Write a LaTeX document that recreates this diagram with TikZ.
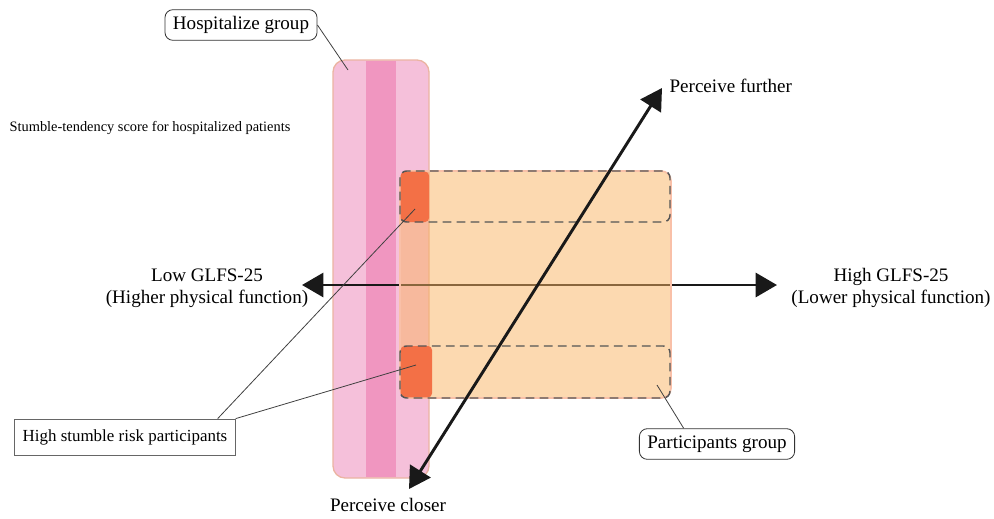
\documentclass[tikz,border=0pt]{standalone}
\usepackage{fontspec}
\setmainfont{Liberation Serif}
\usetikzlibrary{arrows.meta, positioning}
\definecolor{hospink}{HTML}{F5C0DA}
\definecolor{hosstripe}{HTML}{F096C0}
\definecolor{hosborder}{HTML}{EBB4A2}
\definecolor{partorange}{HTML}{F9B361}
\definecolor{partborder}{HTML}{F9C0A8}
\definecolor{hotorange}{HTML}{F37046}
\definecolor{dashgray}{HTML}{555555}
\tikzset{
	labeltext/.style={font=\fontsize{14.3}{16.5}\selectfont, align=center, inner sep=1pt}
}
\tikzset{
	smalltext/.style={font=\fontsize{10.8}{12}\selectfont, inner sep=1pt}
}
\begin{document}
\begin{tikzpicture}[x=0.75pt, y=-0.75pt]

\tikzset{
    axisarrow/.style={
        {Triangle[length=16pt,width=18pt]}-{Triangle[length=16pt,width=18pt]},
        line width=2.2pt,
        draw=black!90
    },
    riskband/.style={
        draw=dashgray,
        line width=1.1pt,
        dash pattern=on 6.5pt off 4pt,
        rounded corners=5pt
    },
    groupbox/.style={
        draw=black!80,
        line width=0.6pt,
        rounded corners=6pt,
        fill=white,
        inner xsep=6pt,
        minimum height=23pt,
        font=\fontsize{14.3}{16}\selectfont
    },
    notebox/.style={
        draw=black!60,
        line width=0.6pt,
        fill=white,
        inner xsep=6pt,
        minimum height=27pt,
        font=\fontsize{12.7}{15}\selectfont
    },
    leader/.style={draw=black!75, line width=0.6pt}
}

\useasboundingbox (0,0) rectangle (994,518);

% hospitalized column
\draw[fill=hospink, draw=hosborder, line width=1pt, rounded corners=9pt] (333,60) rectangle (429,478);
\fill[hosstripe] (366,60.7) rectangle (396,477.3);

\coordinate (lowend) at (302,285);
\coordinate (highend) at (777,285);
\draw[axisarrow] (lowend) -- (highend);

% participants box
\draw[fill=partorange, fill opacity=0.5, draw=partborder, line width=1.3pt, rounded corners=7.5pt] (400,171) rectangle (671,398);
\fill[hotorange, rounded corners=3pt] (400.6,171.6) rectangle (429,222);
\fill[hotorange, rounded corners=3pt] (400.6,346) rectangle (432,397.4);
\draw[riskband] (400,171) rectangle (670,222);
\draw[riskband] (400,346) rectangle (670,398);

\coordinate (closeend) at (409,489);
\coordinate (furtherend) at (662,88);
\draw[axisarrow] (closeend) -- (furtherend);

\node[labeltext, anchor=west] (further) at (668,86) {Perceive further};
\node[labeltext] (closer) at (388,505) {Perceive closer};
\node[labeltext] (lowlabel) at (207,288) {Low GLFS-25\\(Higher physical function)};
\node[labeltext] (highlabel) at (891,288) {High GLFS-25\\(Lower physical function)};
\node[smalltext, anchor=west] (scoretitle) at (8,128) {Stumble-tendency score for hospitalized patients};

% callouts
\node[groupbox] (hosgroup) at (241,25) {Hospitalize group};
\node[notebox] (risknote) at (125,437) {High stumble risk participants};
\node[groupbox] (partgroup) at (717,444) {Participants group};

\coordinate (hospoint) at (348,70);
\coordinate (toppatch) at (415,209);
\coordinate (bottompatch) at (416,365);
\coordinate (partpoint) at (657,385);
\draw[leader] (hosgroup.east) -- (hospoint);
\draw[leader] ([xshift=-13.5pt]risknote.north east) -- (toppatch);
\draw[leader] (risknote.north east) -- (bottompatch);
\draw[leader] ([xshift=-25pt]partgroup.north) -- (partpoint);
\end{tikzpicture}
\end{document}
